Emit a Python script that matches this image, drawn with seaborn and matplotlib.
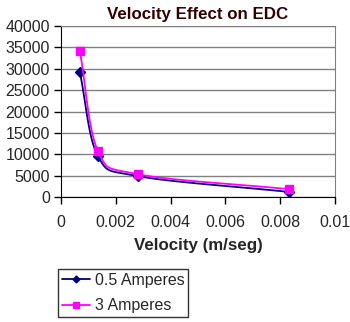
import numpy as np
import pandas as pd
import matplotlib
matplotlib.use("Agg")
import matplotlib.pyplot as plt
import seaborn as sns

velocity = [0.00069, 0.00135, 0.00281, 0.00832]
edc_05 = [29200, 9600, 4900, 1200]
edc_3 = [34200, 10800, 5350, 1850]
series_names = ["0.5 Amperes", "3 Amperes"]
x_ticks = [0, 0.002, 0.004, 0.006, 0.008, 0.01]
x_tick_labels = ["0", "0.002", "0.004", "0.006", "0.008", "0.01"]
y_ticks = [0, 5000, 10000, 15000, 20000, 25000, 30000, 35000, 40000]

sns.set_style("white")
plt.rcParams['font.family'] = ['Liberation Sans', 'DejaVu Sans']

def smooth(x, y, n=40):
    # Catmull-Rom style smoothing similar to Excel's smoothed lines
    x = np.asarray(x, float); y = np.asarray(y, float)
    px = np.concatenate([[2*x[0]-x[1]], x, [2*x[-1]-x[-2]]])
    py = np.concatenate([[2*y[0]-y[1]], y, [2*y[-1]-y[-2]]])
    xs, ys = [], []
    for i in range(1, len(px)-2):
        t = np.linspace(0, 1, n)
        for arr, out in ((px, xs), (py, ys)):
            p0, p1, p2, p3 = arr[i-1], arr[i], arr[i+1], arr[i+2]
            out.extend(0.5*((2*p1) + (-p0+p2)*t + (2*p0-5*p1+4*p2-p3)*t**2 + (-p0+3*p1-3*p2+p3)*t**3))
    return np.array(xs), np.array(ys)

fig = plt.figure(figsize=(3.5, 3.22), dpi=100)
ax = fig.add_axes([0.174, 0.388, 0.783, 0.531])

colors = ["#000080", "#FF00FF"]
markers = ["D", "s"]
msizes = [5, 6]
handles = []
for name, vals, c, m, ms in zip(series_names, [edc_05, edc_3], colors, markers, msizes):
    sx, sy = smooth(velocity, vals)
    sns.lineplot(x=sx, y=sy, ax=ax, color=c, lw=1.3, sort=False, estimator=None, legend=False)
    ax.plot(velocity, vals, linestyle="none", marker=m, color=c, ms=ms, mec=c)
    h, = ax.plot([], [], color=c, lw=1.3, marker=m, ms=ms - 1.5, label=name)
    handles.append(h)
if ax.get_legend() is not None:
    ax.get_legend().remove()

ax.set_xlim(0, 0.01)
ax.set_ylim(0, 40000)
ax.set_xticks(x_ticks)
ax.set_xticklabels(x_tick_labels)
ax.set_yticks(y_ticks)
ax.yaxis.grid(True, color="#808080", lw=1)
ax.set_axisbelow(True)
for s in ["top", "right"]:
    ax.spines[s].set_color("#808080")
for s in ["left", "bottom"]:
    ax.spines[s].set_color("#000000")
ax.tick_params(axis="both", direction="out", length=5, width=1, color="black",
               labelsize=11.5, pad=3, bottom=True, left=True)
ax.tick_params(axis="x", pad=8)
ax.set_title("Velocity Effect on EDC", fontsize=12.2, fontweight="bold", color="#330000", pad=5)
ax.set_xlabel("Velocity (m/seg)", fontsize=12.2, fontweight="bold", labelpad=6)
ax.set_ylabel("")

leg = fig.legend(handles=handles, labels=series_names, loc="upper left",
                 bbox_to_anchor=(58/350, 1 - 269/322), frameon=True,
                 fancybox=False, edgecolor="black", fontsize=11.5, handlelength=1.8,
                 borderpad=0.22, labelspacing=0.68, handletextpad=0.3, borderaxespad=0)
leg.get_frame().set_linewidth(1)

fig.savefig("out.png", dpi=100)
